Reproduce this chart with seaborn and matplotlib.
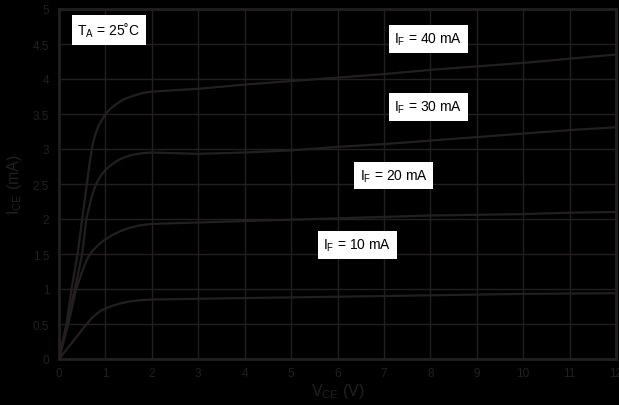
import matplotlib
matplotlib.use("Agg")
import matplotlib.pyplot as plt
import seaborn as sns
import pandas as pd

# Curve data (VCE in V, ICE in mA)
vce_40 = [0, 0.16, 0.27, 0.40, 0.50, 0.60, 0.66, 0.72, 0.78, 0.85, 0.93, 1.0, 1.1, 1.25, 1.4, 1.6, 1.8, 2.0,
          2.5, 3, 4, 5, 6, 7, 8, 9, 10, 11, 12]
ice_40 = [0, 0.5, 1.0, 1.5, 2.0, 2.5, 2.8, 3.05, 3.2, 3.33, 3.42, 3.5, 3.57, 3.65, 3.71, 3.76, 3.80, 3.82,
          3.84, 3.86, 3.92, 3.97, 4.02, 4.07, 4.13, 4.18, 4.23, 4.29, 4.35]

vce_30 = [0, 0.2, 0.34, 0.5, 0.59, 0.66, 0.72, 0.8, 0.9, 1.0, 1.12, 1.25, 1.4, 1.6, 1.8, 2.0,
          2.5, 3, 4, 5, 6, 7, 8, 9, 10, 11, 12]
ice_30 = [0, 0.6, 1.0, 1.5, 2.0, 2.2, 2.35, 2.5, 2.62, 2.7, 2.77, 2.83, 2.88, 2.92, 2.94, 2.95,
          2.94, 2.93, 2.95, 2.98, 3.03, 3.07, 3.12, 3.17, 3.22, 3.27, 3.31]

vce_20 = [0, 0.2, 0.37, 0.5, 0.6, 0.7, 0.8, 0.9, 1.0, 1.15, 1.3, 1.5, 1.75, 2.0,
          3, 4, 5, 6, 7, 8, 9, 10, 11, 12]
ice_20 = [0, 0.5, 1.0, 1.25, 1.42, 1.53, 1.6, 1.66, 1.71, 1.77, 1.82, 1.87, 1.91, 1.93,
          1.95, 1.97, 1.99, 2.01, 2.03, 2.05, 2.06, 2.07, 2.09, 2.10]

vce_10 = [0, 0.3, 0.5, 0.6, 0.7, 0.8, 0.9, 1.0, 1.15, 1.3, 1.5, 1.75, 2.0,
          3, 4, 5, 6, 7, 8, 9, 10, 11, 12]
ice_10 = [0, 0.25, 0.42, 0.5, 0.58, 0.64, 0.69, 0.72, 0.76, 0.79, 0.82, 0.84, 0.85,
          0.86, 0.87, 0.88, 0.89, 0.90, 0.91, 0.92, 0.93, 0.935, 0.94]

series_names = ["40", "30", "20", "10"]
label_texts = [r"I$_\mathregular{F}$ = 40 mA", r"I$_\mathregular{F}$ = 30 mA",
               r"I$_\mathregular{F}$ = 20 mA", r"I$_\mathregular{F}$ = 10 mA"]
label_x = [7.96, 7.96, 7.21, 6.43]
label_y = [4.57, 3.60, 2.62, 1.63]

x_ticks = list(range(0, 13))
y_ticks = [0, 0.5, 1, 1.5, 2, 2.5, 3, 3.5, 4, 4.5, 5]
y_ticklabels = ["0", "0.5", "1", "1.5", "2", "2.5", "3", "3.5", "4", "4.5", "5"]

frames = []
for name, xs, ys in zip(series_names, [vce_40, vce_30, vce_20, vce_10],
                        [ice_40, ice_30, ice_20, ice_10]):
    frames.append(pd.DataFrame({"vce": xs, "ice": ys, "if": name}))
df = pd.concat(frames, ignore_index=True)

sns.set_style("dark")
dark = "#231f20"
plt.rcParams["font.family"] = ["Liberation Sans", "DejaVu Sans"]
plt.rcParams["mathtext.fontset"] = "custom"
plt.rcParams["mathtext.rm"] = "Liberation Sans"

fig = plt.figure(figsize=(6.19, 4.06), dpi=100, facecolor="black")
ax = fig.add_axes([59 / 619, 1 - 360 / 406, (616 - 59) / 619, (360 - 10) / 406])
ax.set_facecolor("black")

sns.lineplot(data=df, x="vce", y="ice", hue="if", units="if", estimator=None,
             palette={n: dark for n in series_names}, linewidth=1.6,
             legend=False, sort=False, ax=ax)

ax.set_xlim(0, 12)
ax.set_ylim(0, 5)
ax.set_xticks(x_ticks)
ax.set_yticks(y_ticks)
ax.set_yticklabels(y_ticklabels)
ax.grid(True, color=dark, linewidth=1.0)
ax.tick_params(axis="both", length=0, colors=dark, labelsize=8.5)
ax.tick_params(axis="y", pad=7)
ax.tick_params(axis="x", pad=6)
for s in ax.spines.values():
    s.set_visible(True)
    s.set_color(dark)
    s.set_linewidth(2)

ax.set_xlabel(r"V$_\mathregular{CE}$ (V)", color=dark, fontsize=11.5, labelpad=1)
ax.set_ylabel(r"I$_\mathregular{CE}$ (mA)", color=dark, fontsize=11.5, labelpad=6)

box = dict(facecolor="white", edgecolor="none", boxstyle="square,pad=0.4")
for t, lx, ly in zip(label_texts, label_x, label_y):
    ax.text(lx, ly, t, ha="center", va="center", fontsize=10, color="black", bbox=box)
ax.text(1.07, 4.70, "T$_\\mathregular{A}$ = 25\u02daC", ha="center", va="center",
        fontsize=10, color="black", bbox=box)

fig.savefig("out.png", dpi=100, facecolor="black")
